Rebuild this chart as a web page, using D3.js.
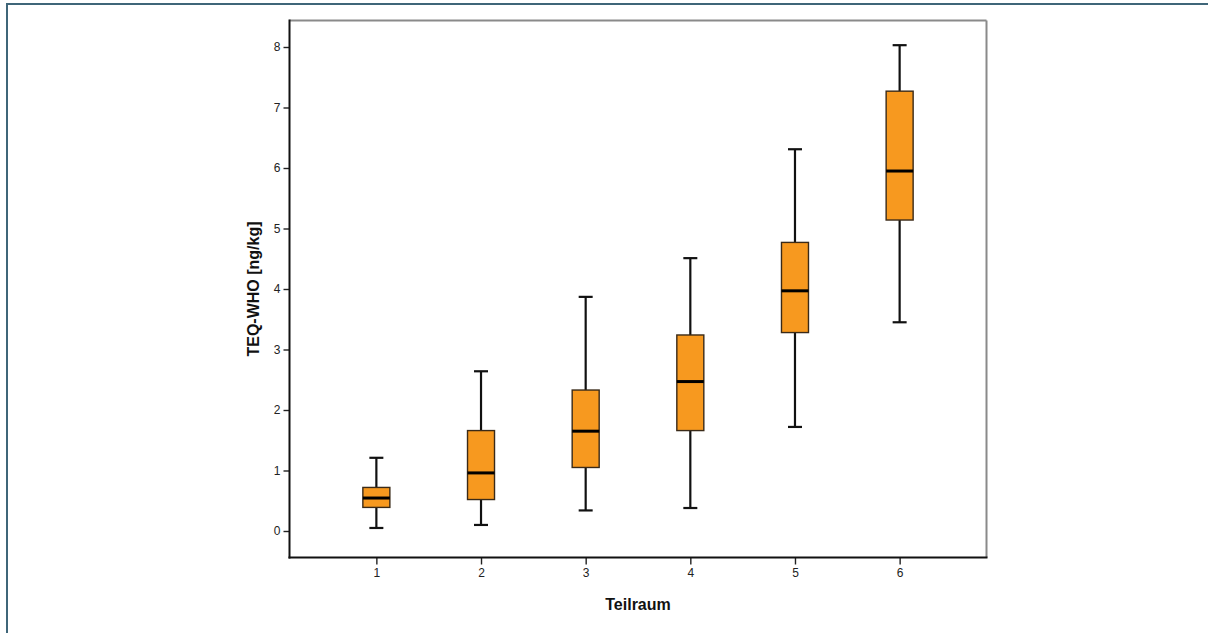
<!DOCTYPE html>
<html>
<head>
<meta charset="utf-8">
<script src="https://cdn.jsdelivr.net/npm/d3@7/dist/d3.min.js"></script>
<style>
  html, body { margin: 0; padding: 0; background: #fff; }
  svg { display: block; font-family: "Liberation Sans", Arial, sans-serif; }
</style>
</head>
<body>
<svg id="chart" width="1208" height="633"></svg>
<script>
// Teilraum categories and five-number summaries of TEQ-WHO [ng/kg]
const categories = ["1", "2", "3", "4", "5", "6"];
const whiskerLow  = [0.05, 0.10, 0.34, 0.38, 1.72, 3.45];
const q1          = [0.39, 0.52, 1.05, 1.66, 3.28, 5.14];
const median      = [0.545, 0.96, 1.65, 2.47, 3.97, 5.95];
const q3          = [0.72, 1.66, 2.33, 3.24, 4.77, 7.27];
const whiskerHigh = [1.21, 2.64, 3.87, 4.51, 6.31, 8.03];
const yTicks = [0, 1, 2, 3, 4, 5, 6, 7, 8];

const boxes = categories.map((c, i) => ({
  cat: c, lo: whiskerLow[i], q1: q1[i], med: median[i], q3: q3[i], hi: whiskerHigh[i]
}));

const svg = d3.select("#chart");

// outer frame of the figure
svg.append("rect")
  .attr("x", 7).attr("y", 4)
  .attr("width", 1240).attr("height", 700)
  .attr("fill", "none")
  .attr("stroke", "#3f6679")
  .attr("stroke-width", 2);

const plot = { left: 289.5, top: 20.5, right: 986.5, bottom: 557.5 };

const y = d3.scaleLinear()
  .domain([0, 8])
  .range([531, 47]);

const x = d3.scalePoint()
  .domain(categories)
  .range([plot.left, plot.right])
  .padding(0.83);

// plot frame: grey top/right, black left/bottom
svg.append("line")
  .attr("x1", plot.left).attr("x2", plot.right)
  .attr("y1", plot.top).attr("y2", plot.top)
  .attr("stroke", "#8a8a8a").attr("stroke-width", 2);
svg.append("line")
  .attr("x1", plot.right).attr("x2", plot.right)
  .attr("y1", plot.top).attr("y2", plot.bottom)
  .attr("stroke", "#8a8a8a").attr("stroke-width", 2);

// y axis
const yAxis = d3.axisLeft(y).tickValues(yTicks).tickSize(6).tickPadding(3).tickFormat(d3.format("d"));
const gy = svg.append("g")
  .attr("transform", `translate(${plot.left},0)`)
  .call(yAxis);
gy.select(".domain").remove();
gy.selectAll(".tick line").attr("stroke", "#222").attr("stroke-width", 1.4);
gy.selectAll(".tick text").attr("font-size", 12).attr("fill", "#222")
  .attr("font-family", "'Liberation Sans', Arial, sans-serif");
svg.append("line")
  .attr("x1", plot.left).attr("x2", plot.left)
  .attr("y1", plot.top - 1).attr("y2", plot.bottom + 1)
  .attr("stroke", "#111").attr("stroke-width", 2);

// x axis
const xAxis = d3.axisBottom(x).tickSize(7).tickPadding(4);
const gx = svg.append("g")
  .attr("transform", `translate(0,${plot.bottom})`)
  .call(xAxis);
gx.select(".domain").remove();
gx.selectAll(".tick line").attr("stroke", "#222").attr("stroke-width", 1.4);
gx.selectAll(".tick text").attr("font-size", 12).attr("fill", "#222")
  .attr("font-family", "'Liberation Sans', Arial, sans-serif");
svg.append("line")
  .attr("x1", plot.left - 1).attr("x2", plot.right + 1)
  .attr("y1", plot.bottom).attr("y2", plot.bottom)
  .attr("stroke", "#111").attr("stroke-width", 2);

// axis titles
svg.append("text")
  .attr("x", 638).attr("y", 610)
  .attr("text-anchor", "middle")
  .attr("font-size", 16).attr("font-weight", "bold").attr("fill", "#111")
  .text("Teilraum");

svg.append("text")
  .attr("transform", "translate(259,289) rotate(-90)")
  .attr("text-anchor", "middle")
  .attr("font-size", 16).attr("font-weight", "bold").attr("fill", "#111")
  .text("TEQ-WHO [ng/kg]");

// boxplots
const boxW = 27, capW = 14;
const g = svg.append("g").selectAll("g.box").data(boxes).join("g").attr("class", "box");

// whiskers
g.append("line")
  .attr("x1", d => x(d.cat)).attr("x2", d => x(d.cat))
  .attr("y1", d => y(d.hi)).attr("y2", d => y(d.q3))
  .attr("stroke", "#111").attr("stroke-width", 2.2);
g.append("line")
  .attr("x1", d => x(d.cat)).attr("x2", d => x(d.cat))
  .attr("y1", d => y(d.q1)).attr("y2", d => y(d.lo))
  .attr("stroke", "#111").attr("stroke-width", 2.2);
g.append("line")
  .attr("x1", d => x(d.cat) - capW / 2).attr("x2", d => x(d.cat) + capW / 2)
  .attr("y1", d => y(d.hi)).attr("y2", d => y(d.hi))
  .attr("stroke", "#111").attr("stroke-width", 2.2);
g.append("line")
  .attr("x1", d => x(d.cat) - capW / 2).attr("x2", d => x(d.cat) + capW / 2)
  .attr("y1", d => y(d.lo)).attr("y2", d => y(d.lo))
  .attr("stroke", "#111").attr("stroke-width", 2.2);

// boxes
g.append("rect")
  .attr("x", d => x(d.cat) - boxW / 2)
  .attr("width", boxW)
  .attr("y", d => y(d.q3))
  .attr("height", d => y(d.q1) - y(d.q3))
  .attr("fill", "#f7991f")
  .attr("stroke", "#3a2a18")
  .attr("stroke-width", 1.4);

// medians
g.append("line")
  .attr("x1", d => x(d.cat) - boxW / 2).attr("x2", d => x(d.cat) + boxW / 2)
  .attr("y1", d => y(d.med)).attr("y2", d => y(d.med))
  .attr("stroke", "#000").attr("stroke-width", 3);
</script>
</body>
</html>
